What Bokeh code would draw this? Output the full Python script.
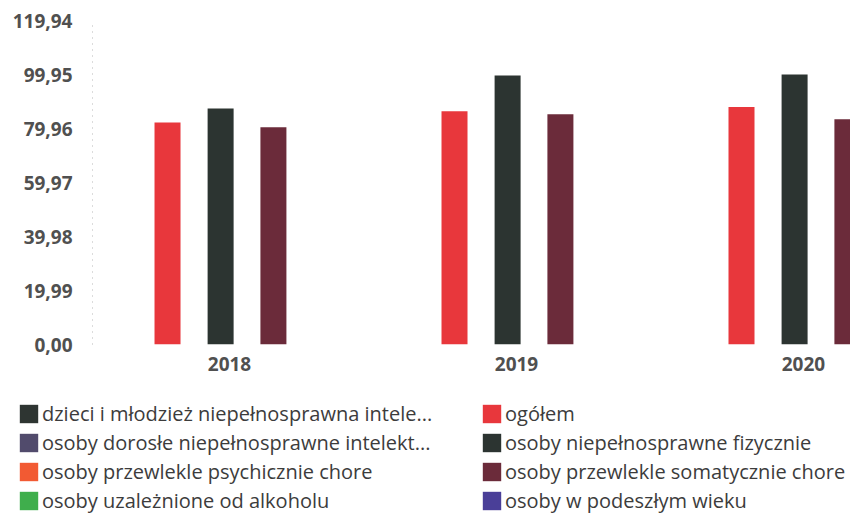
from bokeh.plotting import figure
from bokeh.layouts import column
from bokeh.models import Range1d, FixedTicker, Legend, LegendItem
from bokeh.embed import file_html
from bokeh.resources import INLINE

NaN = float("nan")

# ---- data ----
years = ["2018", "2019", "2020"]
year_index = [0, 1, 2]

series_names = [
    "dzieci i młodzież niepełnosprawna intele...",
    "osoby dorosłe niepełnosprawne intelekt...",
    "osoby przewlekle psychicznie chore",
    "osoby uzależnione od alkoholu",
    "ogółem",
    "osoby niepełnosprawne fizycznie",
    "osoby przewlekle somatycznie chore",
    "osoby w podeszłym wieku",
]
dzieci = [NaN, NaN, NaN]
dorosle = [NaN, NaN, NaN]
psychicznie = [NaN, NaN, NaN]
alkohol = [NaN, NaN, NaN]
ogolem = [82.2, 86.3, 87.9]
fizycznie = [87.4, 99.6, 99.95]
somatycznie = [80.4, 85.2, 83.4]
wiek = [NaN, NaN, NaN]
series_values = [dzieci, dorosle, psychicznie, alkohol, ogolem, fizycznie, somatycznie, wiek]
series_colors = ["#2e3532", "#514b6c", "#f25a33", "#3fae4c",
                 "#e8373c", "#2c3431", "#6b2b3a", "#4a3f98"]

y_ticks = [0.0, 19.99, 39.98, 59.97, 79.96, 99.95, 119.94]
y_tick_labels = ["0,00", "19,99", "39,98", "59,97", "79,96", "99,95", "119,94"]

# ---- layout constants ----
FONT = "Open Sans"
W = 850
CHART_H = 386
LEGEND_H = 128
bar_w = 0.0906
series_offsets = [0, 0, 0, 0, -0.216, -0.031, 0.153, 0]

p = figure(width=W, height=CHART_H, output_backend="svg", toolbar_location=None,
           x_range=Range1d(-0.4774, 2.1638), y_range=Range1d(0, 119.94),
           min_border_left=92, min_border_right=0, min_border_top=20,
           min_border_bottom=42)
p.outline_line_color = None
p.xgrid.visible = False
p.ygrid.visible = False

for vals, off, col in zip(series_values, series_offsets, series_colors):
    xs = [i + off for i in year_index]
    p.vbar(x=xs, top=vals, bottom=0, width=bar_w, fill_color=col, line_color=None)

p.yaxis.ticker = FixedTicker(ticks=y_ticks)
p.yaxis.major_label_overrides = dict(zip(y_ticks, y_tick_labels))
p.yaxis.major_tick_line_color = None
p.yaxis.minor_tick_line_color = None
p.yaxis.axis_line_color = "#b8b8b8"
p.yaxis.axis_line_dash = "1 5"
p.yaxis.major_label_standoff = 14
p.yaxis.major_label_text_font = FONT
p.yaxis.major_label_text_font_size = "19px"
p.yaxis.major_label_text_color = "#505050"
p.yaxis.major_label_text_font_style = "bold"

p.xaxis.ticker = FixedTicker(ticks=year_index)
p.xaxis.major_label_overrides = dict(zip(year_index, years))
p.xaxis.major_tick_line_color = None
p.xaxis.minor_tick_line_color = None
p.xaxis.axis_line_color = None
p.xaxis.major_label_standoff = 6
p.xaxis.major_label_text_font = FONT
p.xaxis.major_label_text_font_size = "19px"
p.xaxis.major_label_text_color = "#505050"
p.xaxis.major_label_text_font_style = "bold"

# ---- legend panel (series swatches: zero-height bars outside its view) ----
lf = figure(width=W, height=LEGEND_H, output_backend="svg", toolbar_location=None,
            x_axis_type=None, y_axis_type=None, x_range=Range1d(-10, -9),
            y_range=Range1d(-10, -9), min_border=0)
lf.outline_line_color = None
lf.xgrid.visible = False
lf.ygrid.visible = False
for fig in (p, lf):
    if "frame_align" in fig.properties():
        fig.frame_align = False

items = []
for name, vals, col in zip(series_names, series_values, series_colors):
    r = lf.vbar(x=year_index, top=vals, bottom=vals, width=bar_w,
                fill_color=col, line_color=None)
    items.append(LegendItem(label=name, renderers=[r]))

def make_legend(its, loc):
    return Legend(items=its, location=loc, orientation="vertical",
                  glyph_width=23, glyph_height=23, label_height=20,
                  spacing=2, label_standoff=2, padding=0, margin=0,
                  border_line_color=None, background_fill_alpha=0,
                  label_text_font=FONT, label_text_font_size="20px",
                  label_text_color="#3c3c3c")

lf.add_layout(make_legend(items[:4], (17, 0)))
lf.add_layout(make_legend(items[4:], (480, 0)))

layout = column(p, lf, spacing=0)
open("out.html", "w").write(file_html(layout, INLINE))
